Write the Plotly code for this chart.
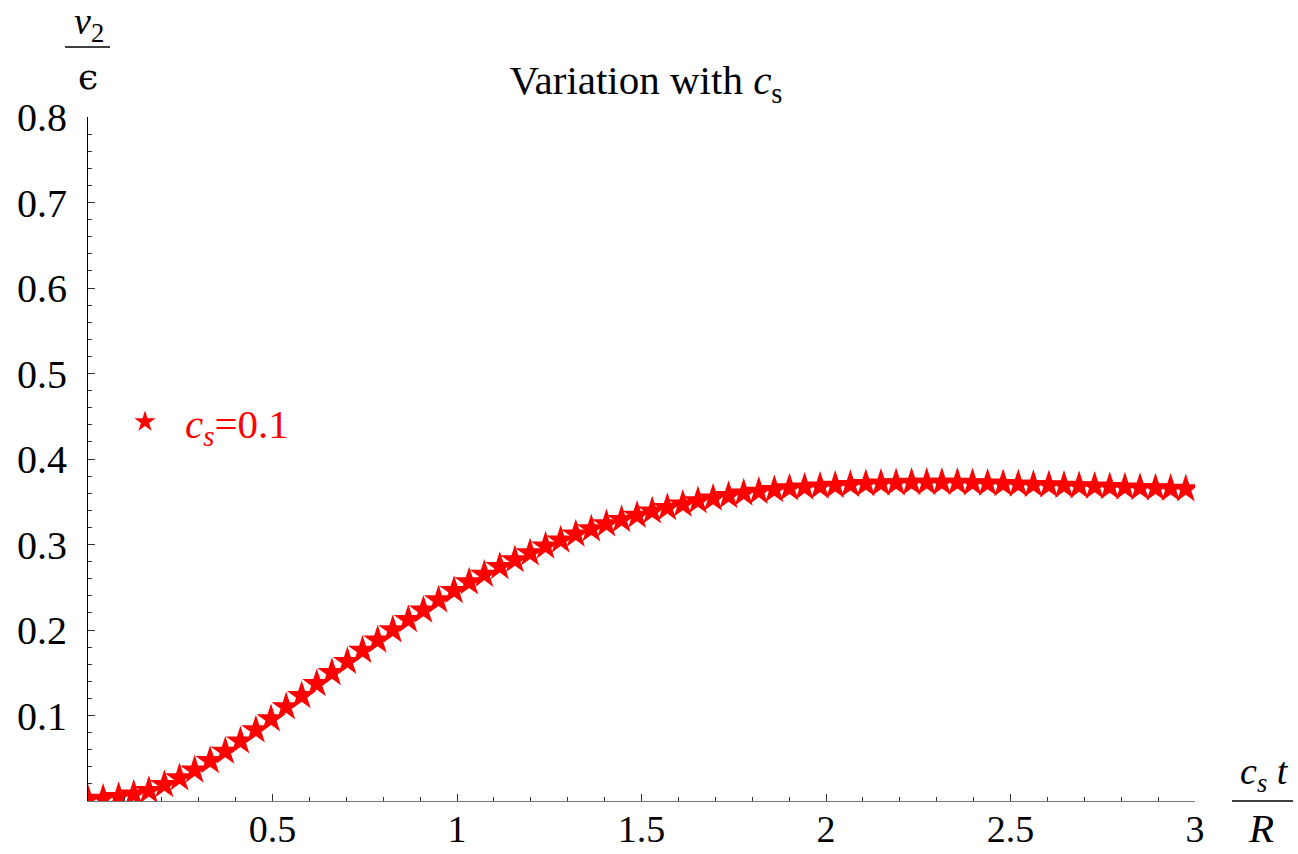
import plotly.graph_objects as go

# Sample points of v2/epsilon versus c_s t / R for c_s = 0.1
x_vals = [0.000, 0.041, 0.083, 0.124, 0.165, 0.207, 0.248, 0.289, 0.331, 0.372,
          0.413, 0.455, 0.496, 0.537, 0.579, 0.620, 0.661, 0.703, 0.744, 0.785,
          0.826, 0.868, 0.909, 0.950, 0.992, 1.033, 1.074, 1.116, 1.157, 1.198,
          1.240, 1.281, 1.322, 1.364, 1.405, 1.446, 1.488, 1.529, 1.570, 1.612,
          1.653, 1.694, 1.736, 1.777, 1.818, 1.860, 1.901, 1.942, 1.984, 2.025,
          2.066, 2.108, 2.149, 2.190, 2.232, 2.273, 2.314, 2.356, 2.397, 2.438,
          2.480, 2.521, 2.562, 2.604, 2.645, 2.686, 2.728, 2.769, 2.810, 2.851,
          2.893, 2.934, 2.975]
v2_vals = [0.002, 0.003, 0.005, 0.008, 0.012, 0.019, 0.027, 0.036, 0.047, 0.058,
           0.070, 0.083, 0.096, 0.110, 0.123, 0.137, 0.150, 0.163, 0.176, 0.188,
           0.200, 0.212, 0.223, 0.235, 0.246, 0.256, 0.265, 0.274, 0.282, 0.290,
           0.298, 0.305, 0.312, 0.318, 0.324, 0.329, 0.334, 0.339, 0.343, 0.347,
           0.351, 0.354, 0.357, 0.360, 0.362, 0.364, 0.366, 0.367, 0.368, 0.369,
           0.370, 0.371, 0.3715, 0.372, 0.3725, 0.3725, 0.3725, 0.3725, 0.372, 0.3715,
           0.371, 0.3705, 0.370, 0.3695, 0.369, 0.3685, 0.368, 0.3675, 0.367, 0.3665,
           0.366, 0.3655, 0.365]

x_ticks = [0.5, 1, 1.5, 2, 2.5, 3]
x_tick_text = ["0.5", "1", "1.5", "2", "2.5", "3"]
y_ticks = [0.1, 0.2, 0.3, 0.4, 0.5, 0.6, 0.7, 0.8]
y_tick_text = ["0.1", "0.2", "0.3", "0.4", "0.5", "0.6", "0.7", "0.8"]

series_name = "<i>c<sub>s</sub></i>=0.1"
RED = "#ff0000"
SERIF = "Liberation Serif, Times New Roman, serif"

W, H = 1298, 854
L, R_, T, B = 88, 103, 117, 53
PW, PH = W - L - R_, H - T - B


def px(xp):
    return (xp - L) / PW


def py(yp):
    return (H - B - yp) / PH


fig = go.Figure()
fig.add_trace(go.Scatter(
    x=x_vals, y=v2_vals, mode="markers", name=series_name,
    marker=dict(symbol="star", size=22, color=RED, line=dict(width=0)),
    showlegend=True,
))

fig.update_layout(
    width=W, height=H,
    margin=dict(l=L, r=R_, t=T, b=B),
    paper_bgcolor="white", plot_bgcolor="white",
    font=dict(family=SERIF, color="black"),
    title=dict(text="Variation with <i>c</i><sub>s</sub>", x=646 / W, xanchor="center",
               y=1 - 80 / H, yanchor="middle", font=dict(size=41, family=SERIF, color="black")),
    showlegend=True,
    legend=dict(x=px(105), y=py(422), xanchor="left", yanchor="middle",
                bgcolor="rgba(0,0,0,0)", font=dict(size=41, color=RED, family=SERIF),
                itemsizing="trace", itemwidth=70),
    xaxis=dict(range=[0, 3], showgrid=False, zeroline=False, showline=True, automargin=False,
               linecolor="#777777", linewidth=1.2,
               tickvals=x_ticks, ticktext=x_tick_text, ticks="inside", ticklen=7,
               tickcolor="#333333", tickwidth=1, tickfont=dict(size=38, family=SERIF),
               ticklabelstandoff=-6,
               minor=dict(dtick=0.1, ticks="inside", ticklen=4, tickcolor="#333333", showgrid=False)),
    yaxis=dict(range=[0, 0.8], showgrid=False, zeroline=False, showline=True, automargin=False,
               linecolor="black", linewidth=1.2,
               tickvals=y_ticks, ticktext=y_tick_text, ticks="inside", ticklen=7,
               tickcolor="#333333", tickwidth=1, tickfont=dict(size=40, family=SERIF),
               ticklabelstandoff=12,
               minor=dict(dtick=0.02, ticks="inside", ticklen=4, tickcolor="#333333", showgrid=False)),
)

# Axis labels written as stacked fractions
ann = [
    dict(text="<i>v</i><sub>2</sub>", x=px(89), y=py(24), xanchor="center", yanchor="middle",
         font=dict(size=38)),
    dict(text="ϵ", x=px(88), y=py(76), xanchor="center", yanchor="middle",
         font=dict(size=36, family="DejaVu Serif, serif")),
    dict(text="<i>c<sub>s</sub></i> <i>t</i>", x=px(1264), y=py(774), xanchor="center",
         yanchor="middle", font=dict(size=38)),
    dict(text="<i>R</i>", x=px(1261), y=py(828), xanchor="center", yanchor="middle",
         font=dict(size=41)),
]
for a in ann:
    a.update(xref="paper", yref="paper", showarrow=False)
    a.setdefault("font", {})
    a["font"].setdefault("color", "black")
    a["font"].setdefault("family", SERIF)
fig.update_layout(annotations=ann)

fig.add_shape(type="line", xref="paper", yref="paper",
              x0=px(65), x1=px(110), y0=py(47), y1=py(47), line=dict(color="black", width=1.5))
fig.add_shape(type="line", xref="paper", yref="paper",
              x0=px(1232), x1=px(1293), y0=py(801), y1=py(801), line=dict(color="black", width=1.5))

fig.write_html("out.html")
